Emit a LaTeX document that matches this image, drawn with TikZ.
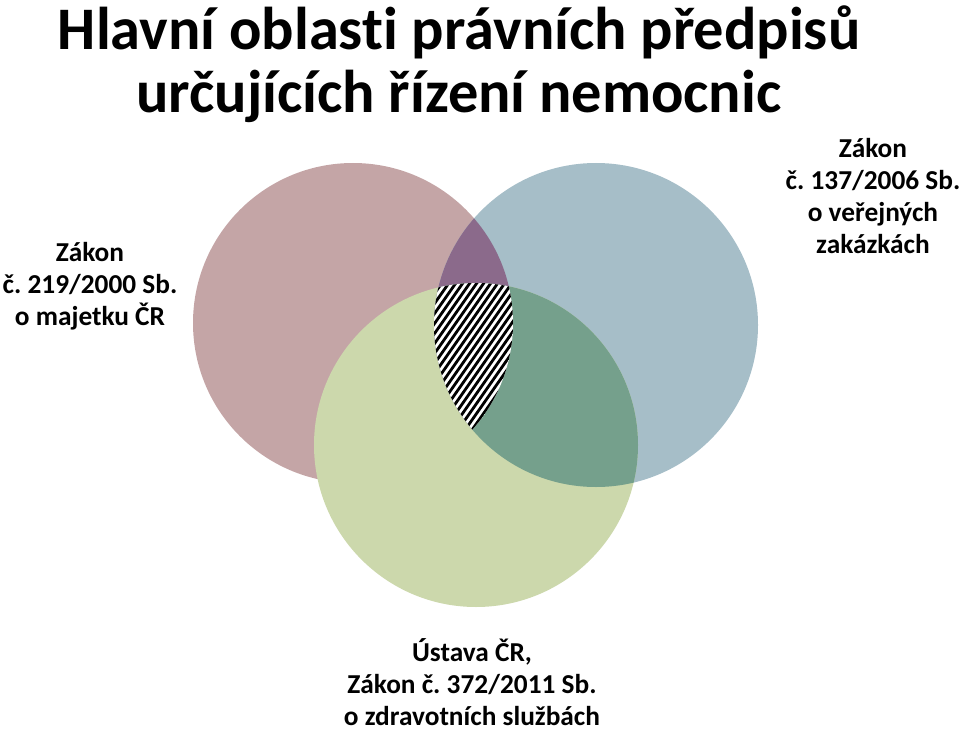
\documentclass[tikz,border=0pt]{standalone}
\usepackage{fontspec}
\setmainfont{Carlito}[Ligatures=NoCommon]
\usepackage{xcolor}
\usetikzlibrary{calc}
\frenchspacing

\definecolor{rosefill}{RGB}{196,165,166}
\definecolor{bluefill}{RGB}{166,190,200}
\definecolor{greenfill}{RGB}{204,216,172}
\definecolor{purplefill}{RGB}{139,106,139}
\definecolor{tealfill}{RGB}{117,160,140}

\tikzset{
  lawtext/.style={font=\bfseries\fontsize{20.5}{24}\selectfont, align=center, inner sep=0pt, anchor=base},
  titletext/.style={font=\bfseries\fontsize{45.3}{47.5}\selectfont, align=center, inner sep=0pt, anchor=base},
  stripe/.style={line width=2.1pt, black}
}

\begin{document}
\begin{tikzpicture}[x=0.75pt, y=-0.75pt]
\useasboundingbox (0,0) rectangle (960,731);

% Circle centres
\coordinate (cMajetek) at (353,323);
\coordinate (cZakazky) at (596,325);
\coordinate (cZdravi) at (476,445);

% Title (anchor is the last line)
\node[titletext] (title) at (459,113) {Hlavní oblasti právních předpisů\\určujících řízení nemocnic};

% Three circles
\fill[rosefill] (cMajetek) circle (160);
\fill[bluefill] (cZakazky) circle (162);
\fill[greenfill] (cZdravi) circle (162);

% Overlap of the two upper circles
\begin{scope}
  \clip (cMajetek) circle (160);
  \fill[purplefill] (cZakazky) circle (162);
\end{scope}

% Overlap of the right and the lower circle
\begin{scope}
  \clip (cZakazky) circle (162);
  \fill[tealfill] (cZdravi) circle (162);
\end{scope}

% Overlap of all three: hatched
\begin{scope}
  \clip (cMajetek) circle (160);
  \clip (cZakazky) circle (162);
  \clip (cZdravi) circle (162);
  \fill[white] (cZdravi) circle (162);
  \foreach \k in {0,...,60} {
    \draw[stripe] (150+\k*7,480) -- ++(280,-400);
  }
\end{scope}

% Labels
\node[lawtext] (majetek) at (90,325) {Zákon\\č. 219/2000 Sb.\\o majetku ČR};
\node[lawtext] (zakazky) at (873,253) {Zákon\\č. 137/2006 Sb.\\o veřejných\\zakázkách};
\node[lawtext] (zdravi) at (472,725) {Ústava ČR,\\Zákon č. 372/2011 Sb.\\o zdravotních službách};
\end{tikzpicture}
\end{document}
